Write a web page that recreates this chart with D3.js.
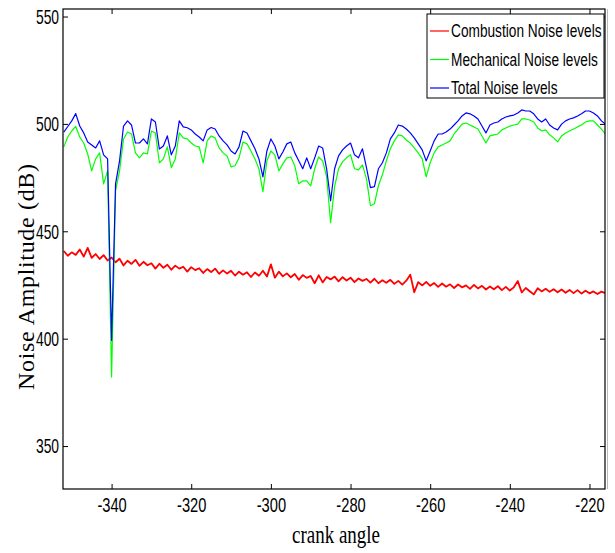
<!DOCTYPE html>
<html>
<head>
<meta charset="utf-8">
<script src="https://cdn.jsdelivr.net/npm/d3@7"></script>
<style>
  body { margin: 0; background: #fff; }
  svg { display: block; }
  .axis text { font-family: "Liberation Sans", Arial, sans-serif; font-size: 21px; fill: #000; }
  .axis line { stroke: #000; }
  .axis path { display: none; }
</style>
</head>
<body>
<div id="chart"></div>
<script>
// crank angle grid, one reading per degree
const angles = d3.range(-352, -215, 1);

// combustion noise (red)
const combustion = [
  440.8, 438.6, 440.2, 439.0, 441.5, 438.2, 442.3, 437.6, 439.4, 437.1,
  438.9, 436.4, 437.8, 435.6, 437.2, 434.1, 436.3, 434.8, 436.7, 433.9,
  435.8, 434.2, 435.1, 432.6, 434.9, 433.0, 434.4, 432.1, 434.0, 432.6,
  433.5, 431.2, 433.3, 431.9, 432.8, 430.6, 432.4, 431.0, 432.6, 430.2,
  431.8, 430.3, 431.6, 429.4, 431.2, 429.8, 430.9, 428.7, 430.8, 429.3,
  431.6, 428.9, 434.6, 428.4, 431.2, 429.0, 430.4, 428.6, 430.1, 427.4,
  429.6, 428.3, 429.2, 425.8, 429.5, 426.2, 428.7, 427.6, 428.9, 426.7,
  428.6, 427.1, 428.4, 426.3, 428.0, 426.9, 427.8, 426.1, 427.9, 425.8,
  427.2, 426.0, 427.4, 425.5, 426.9, 425.2, 427.0, 429.8, 421.6, 426.3,
  424.8, 426.4, 424.6, 425.9, 424.1, 425.7, 424.2, 425.3, 423.6, 425.2,
  423.9, 424.8, 423.2, 425.0, 423.4, 424.6, 422.9, 424.3, 423.0, 424.4,
  422.6, 424.1, 422.4, 423.9, 426.8, 421.5, 423.6, 422.1, 420.6, 423.5,
  422.0, 423.2, 421.8, 423.0, 421.6, 422.9, 421.4, 422.7, 421.2, 422.6,
  421.0, 422.3, 421.1, 422.0, 420.8, 421.9, 421.2
];

// mechanical noise (green)
const mechanical = [
  489.3, 493.9, 496.7, 498.8, 493.9, 491.1, 486.0, 478.1, 483.7, 486.5,
  472.1, 478.1, 382.2, 468.9, 478.1, 493.0, 496.2, 495.3, 486.5, 484.2,
  486.5, 486.0, 496.7, 495.8, 481.9, 483.7, 489.3, 479.6, 483.7, 495.8,
  493.5, 493.0, 491.1, 489.7, 489.3, 481.9, 492.1, 494.4, 493.5, 488.8,
  486.5, 485.1, 480.0, 480.5, 484.2, 491.6, 490.7, 487.4, 483.7, 479.1,
  468.4, 482.8, 487.4, 485.6, 478.1, 481.4, 484.2, 484.6, 480.5, 472.1,
  473.5, 473.5, 471.2, 479.1, 484.6, 482.8, 475.3, 454.0, 470.8, 479.1,
  482.3, 484.2, 485.6, 479.1, 478.6, 480.9, 474.4, 461.9, 462.8, 471.2,
  476.3, 482.8, 488.4, 492.1, 494.9, 494.4, 492.5, 491.1, 488.8, 486.5,
  483.7, 475.3, 481.9, 486.5, 489.3, 490.2, 491.1, 492.1, 495.3, 497.6,
  499.9, 500.4, 499.5, 498.6, 497.6, 494.4, 491.1, 494.4, 494.9, 495.3,
  497.2, 498.1, 499.0, 499.5, 499.9, 502.3, 502.3, 501.8, 500.9, 498.1,
  496.7, 497.2, 494.9, 493.5, 491.6, 494.4, 495.8, 496.7, 497.6, 498.6,
  499.5, 500.9, 501.4, 501.4, 499.5, 497.6, 495.3
];

// total noise (blue)
const total = [
  496.2, 498.8, 501.4, 504.8, 499.0, 495.8, 491.6, 490.2, 488.8, 492.1,
  485.6, 483.7, 399.2, 472.1, 482.8, 499.0, 501.4, 499.5, 491.1, 491.1,
  493.0, 490.7, 502.3, 500.9, 488.3, 489.7, 494.4, 485.6, 489.7, 501.4,
  498.6, 498.2, 497.2, 495.3, 493.9, 492.1, 497.2, 498.3, 497.6, 494.4,
  492.1, 490.2, 487.4, 486.0, 489.3, 496.7, 495.8, 492.1, 488.4, 483.7,
  475.3, 487.4, 493.0, 489.7, 483.7, 486.9, 490.7, 491.6, 486.5, 482.8,
  479.1, 484.2, 479.1, 484.2, 489.7, 488.8, 479.1, 464.2, 479.1, 485.1,
  487.9, 489.7, 491.1, 485.6, 484.2, 488.4, 479.6, 470.3, 470.8, 479.1,
  481.9, 486.5, 493.0, 495.8, 499.5, 499.0, 497.6, 495.8, 493.5, 490.7,
  487.9, 482.8, 487.4, 492.1, 495.3, 495.3, 496.2, 497.6, 499.5, 501.4,
  503.7, 505.1, 504.7, 503.7, 502.3, 499.0, 495.8, 499.5, 500.4, 500.9,
  502.3, 503.2, 503.7, 504.1, 505.1, 506.5, 506.0, 506.0, 504.7, 502.3,
  500.9, 502.3, 499.5, 498.1, 497.2, 499.9, 501.4, 502.3, 502.8, 503.7,
  504.7, 506.0, 506.0, 505.1, 503.7, 501.4, 499.9
];

const seriesNames = ['Combustion Noise levels', 'Mechanical Noise levels', 'Total Noise levels'];
const seriesColors = ['#ff0000', '#00ff00', '#0000ff'];
const xTicks = [-340, -320, -300, -280, -260, -240, -220];
const yTicks = [350, 400, 450, 500, 550];

const width = 615;
const height = 553;
const margin = { top: 9, right: 10, bottom: 64, left: 63 };

const svg = d3.select('#chart').append('svg')
  .attr('width', width)
  .attr('height', height);

const x = d3.scaleLinear()
  .domain([-352.2, -216.1])
  .range([margin.left, width - margin.right]);

const y = d3.scaleLinear()
  .domain([330, 553.5])
  .range([height - margin.bottom, margin.top]);

// clip lines to the plot box
svg.append('clipPath').attr('id', 'clip')
  .append('rect')
  .attr('x', x.range()[0])
  .attr('y', y.range()[1])
  .attr('width', x.range()[1] - x.range()[0])
  .attr('height', y.range()[0] - y.range()[1]);

const plot = svg.append('g').attr('clip-path', 'url(#clip)');

const line = d3.line()
  .x((d, i) => x(angles[i]))
  .y(d => y(d));

[combustion, mechanical, total].forEach((s, i) => {
  plot.append('path')
    .datum(s)
    .attr('fill', 'none')
    .attr('stroke', seriesColors[i])
    .attr('stroke-width', i === 0 ? 1.8 : 1.2)
    .attr('stroke-linejoin', 'round')
    .attr('d', line);
});

// axes, ticks point inward like matlab
// text is squashed sideways, the source figure was resized that way
const plain = d => String(d);

svg.append('g')
  .attr('class', 'axis')
  .attr('transform', `translate(0,${y.range()[0]})`)
  .call(d3.axisBottom(x).tickValues(xTicks).tickFormat(plain).tickSize(-5).tickSizeOuter(0).tickPadding(8))
  .selectAll('text')
  .attr('transform', 'scale(0.7,1)');

svg.append('g')
  .attr('class', 'axis')
  .attr('transform', `translate(${x.range()[0]},0)`)
  .call(d3.axisLeft(y).tickValues(yTicks).tickFormat(plain).tickSize(-5).tickSizeOuter(0).tickPadding(6))
  .selectAll('text')
  .attr('transform', 'scale(0.66,1)');

svg.append('g')
  .attr('class', 'axis')
  .attr('transform', `translate(0,${y.range()[1]})`)
  .call(d3.axisTop(x).tickValues(xTicks).tickSize(-5).tickSizeOuter(0).tickFormat(''));

svg.append('g')
  .attr('class', 'axis')
  .attr('transform', `translate(${x.range()[1]},0)`)
  .call(d3.axisRight(y).tickValues(yTicks).tickSize(-5).tickSizeOuter(0).tickFormat(''));

// box round the plot
svg.append('rect')
  .attr('x', x.range()[0])
  .attr('y', y.range()[1])
  .attr('width', x.range()[1] - x.range()[0])
  .attr('height', y.range()[0] - y.range()[1])
  .attr('fill', 'none')
  .attr('stroke', '#000')
  .attr('stroke-width', 1.2);

svg.append('line')
  .attr('x1', x.range()[1] + 2.5).attr('x2', x.range()[1] + 2.5)
  .attr('y1', y.range()[1]).attr('y2', y.range()[0])
  .attr('stroke', '#bbb');

// axis titles
svg.append('text')
  .attr('transform', `translate(${(x.range()[0] + x.range()[1]) / 2 + 2},543) scale(0.76,1)`)
  .attr('text-anchor', 'middle')
  .style('font-family', '"Liberation Serif", "Times New Roman", serif')
  .style('font-size', '25px')
  .text('crank angle');

svg.append('text')
  .attr('transform', 'translate(34,277) rotate(-90)')
  .attr('text-anchor', 'middle')
  .attr('textLength', 226)
  .attr('lengthAdjust', 'spacing')
  .style('font-family', '"Liberation Serif", "Times New Roman", serif')
  .style('font-size', '24px')
  .text('Noise Amplitude (dB)');

// legend
const legend = svg.append('g').attr('transform', 'translate(427,14)');
legend.append('rect')
  .attr('width', 177)
  .attr('height', 84)
  .attr('fill', '#fff')
  .attr('stroke', '#000');

seriesNames.forEach((name, i) => {
  const ly = 17 + i * 28.5;
  legend.append('line')
    .attr('x1', 3).attr('x2', 22)
    .attr('y1', ly).attr('y2', ly)
    .attr('stroke', seriesColors[i])
    .attr('stroke-width', 1.2);
  legend.append('text')
    .attr('transform', `translate(24,${ly}) scale(0.74,1)`)
    .attr('dy', '0.35em')
    .style('font-family', '"Liberation Sans", Arial, sans-serif')
    .style('font-size', '18.5px')
    .text(name);
});
</script>
</body>
</html>
